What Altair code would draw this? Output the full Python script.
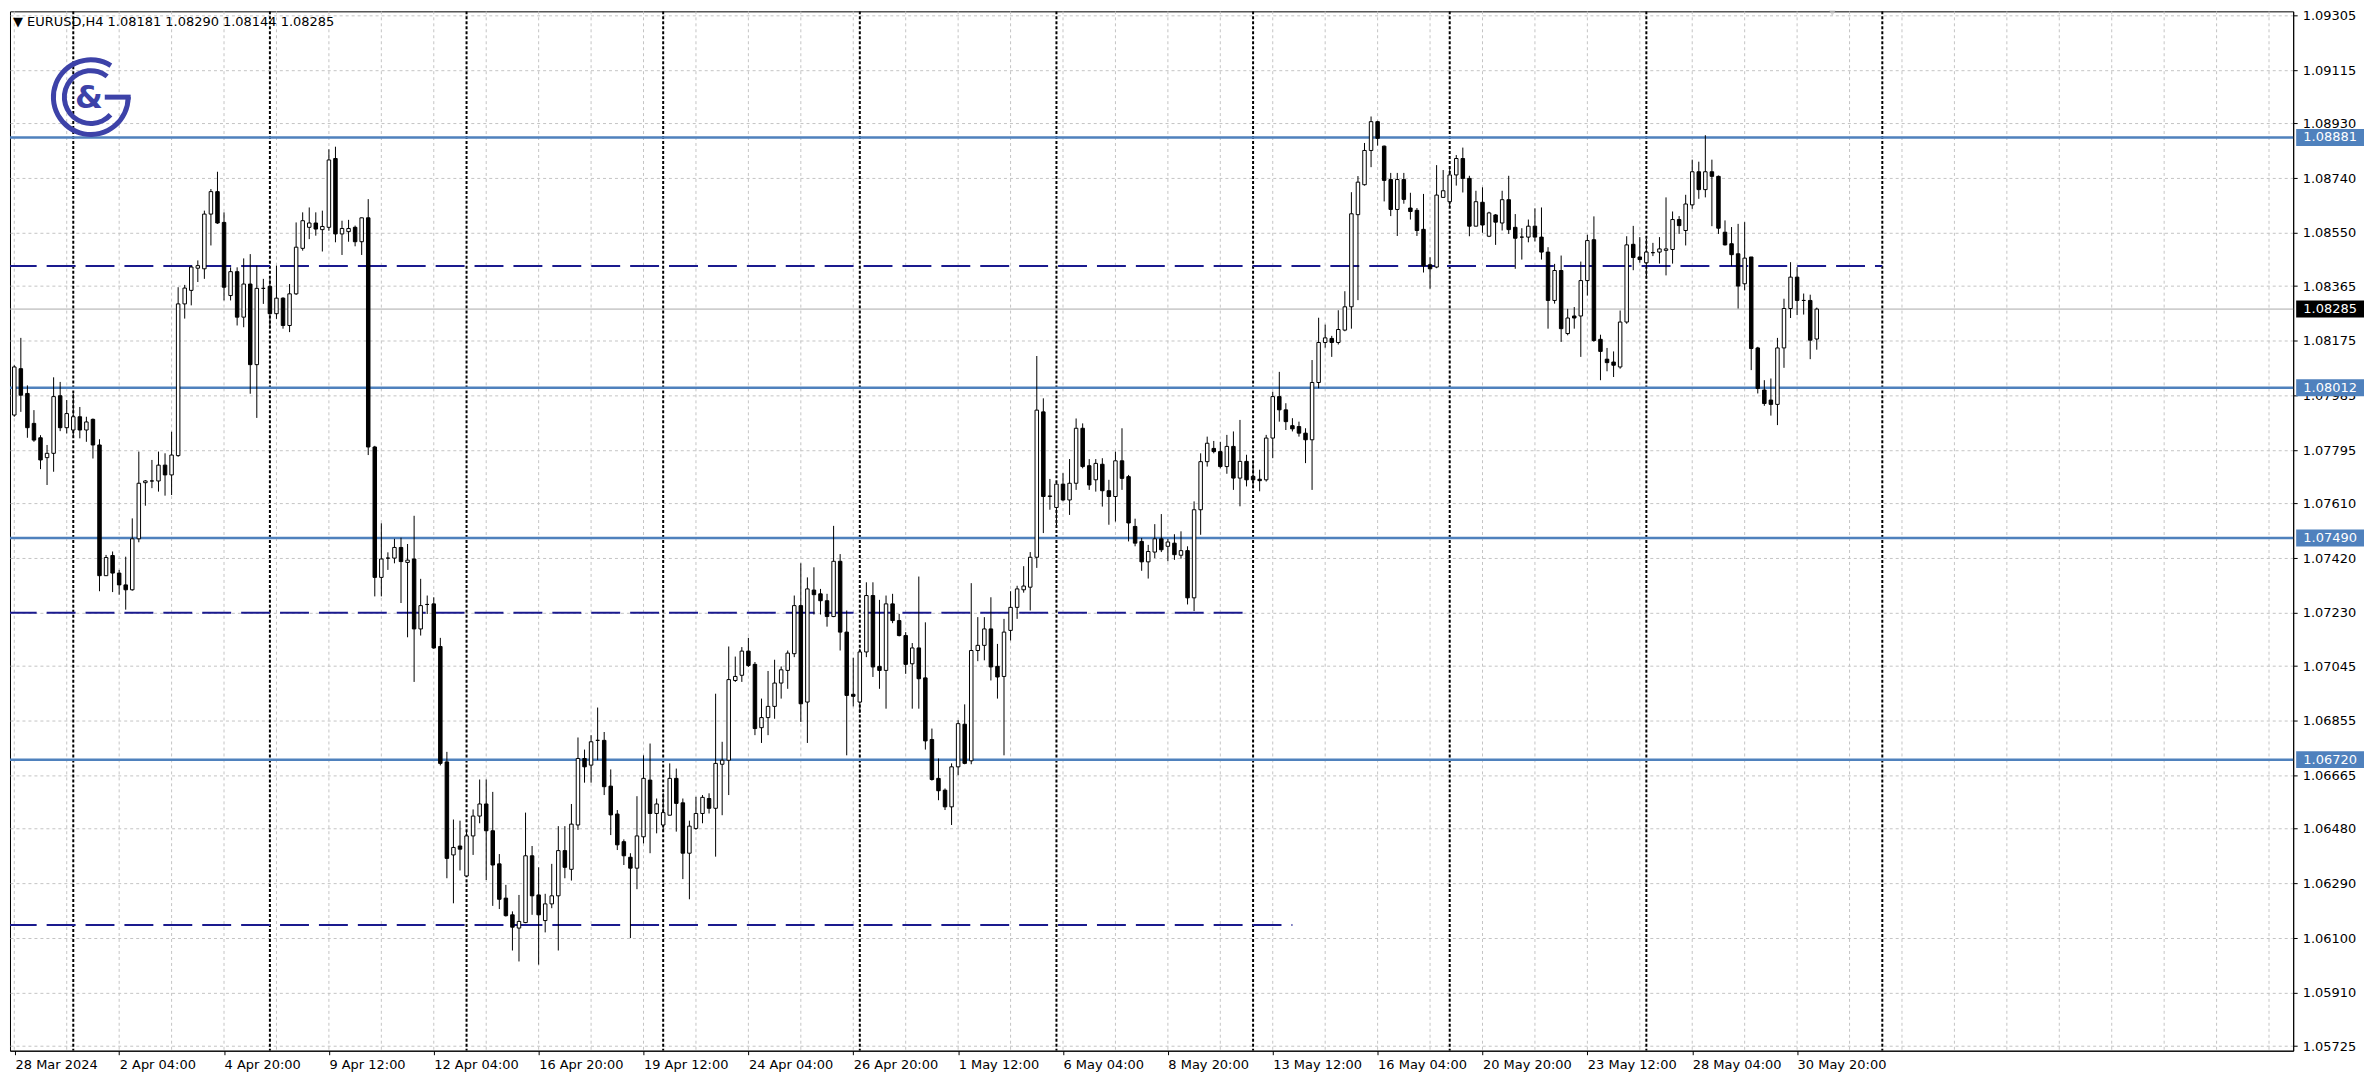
import json
import altair as alt
import pandas as pd

# ---------------- data (EURUSD, H4) ----------------
opens = [
 1.07917, 1.07917, 1.08078, 1.07992, 1.07888, 1.07838, 1.07769, 1.07784, 1.07984, 1.07873,
 1.07865, 1.07911, 1.07865, 1.07902, 1.07813, 1.07359, 1.07429, 1.07368, 1.07327, 1.07310,
 1.07487, 1.07682, 1.07688, 1.07688, 1.07743, 1.07709, 1.07776, 1.08303, 1.08350, 1.08427,
 1.08425, 1.08615, 1.08693, 1.08586, 1.08332, 1.08415, 1.08257, 1.08372, 1.08092, 1.08357,
 1.08364, 1.08269, 1.08323, 1.08228, 1.08338, 1.08496, 1.08569, 1.08584, 1.08561, 1.08569,
 1.08808, 1.08546, 1.08554, 1.08569, 1.08519, 1.08602, 1.07806, 1.07353, 1.07420, 1.07420,
 1.07457, 1.07405, 1.07417, 1.07174, 1.07259, 1.07261, 1.07113, 1.06712, 1.06389, 1.06420,
 1.06316, 1.06455, 1.06524, 1.06566, 1.06473, 1.06358, 1.06239, 1.06181, 1.06135, 1.06154,
 1.06386, 1.06250, 1.06161, 1.06219, 1.06247, 1.06404, 1.06339, 1.06493, 1.06724, 1.06701,
 1.06787, 1.06787, 1.06628, 1.06531, 1.06435, 1.06381, 1.06343, 1.06452, 1.06649, 1.06533,
 1.06493, 1.06527, 1.06655, 1.06570, 1.06395, 1.06481, 1.06533, 1.06585, 1.06551, 1.06704,
 1.06718, 1.06995, 1.07013, 1.07097, 1.07051, 1.06831, 1.06866, 1.06905, 1.06986, 1.07030,
 1.07088, 1.07255, 1.06920, 1.07309, 1.07296, 1.07272, 1.07217, 1.07409, 1.07163, 1.06947,
 1.06920, 1.07094, 1.07290, 1.07044, 1.07030, 1.07261, 1.07203, 1.07151, 1.07053, 1.07108,
 1.07004, 1.06790, 1.06655, 1.06614, 1.06556, 1.06695, 1.06843, 1.06716, 1.07099, 1.07117,
 1.07174, 1.07044, 1.07009, 1.07169, 1.07249, 1.07310, 1.07319, 1.07423, 1.07928, 1.07634,
 1.07596, 1.07677, 1.07622, 1.07680, 1.07871, 1.07741, 1.07692, 1.07746, 1.07654, 1.07634,
 1.07758, 1.07703, 1.07530, 1.07478, 1.07407, 1.07441, 1.07487, 1.07461, 1.07472, 1.07430,
 1.07446, 1.07282, 1.07588, 1.07755, 1.07801, 1.07790, 1.07738, 1.07808, 1.07698, 1.07756,
 1.07704, 1.07694, 1.07692, 1.07837, 1.07981, 1.07935, 1.07880, 1.07877, 1.07854, 1.07831,
 1.08030, 1.08169, 1.08183, 1.08169, 1.08212, 1.08293, 1.08613, 1.08717, 1.08836, 1.08936,
 1.08851, 1.08735, 1.08631, 1.08735, 1.08636, 1.08628, 1.08562, 1.08439, 1.08431, 1.08673,
 1.08658, 1.08751, 1.08808, 1.08739, 1.08573, 1.08656, 1.08538, 1.08612, 1.08584, 1.08665,
 1.08569, 1.08535, 1.08535, 1.08573, 1.08535, 1.08483, 1.08315, 1.08419, 1.08200, 1.08261,
 1.08261, 1.08384, 1.08526, 1.08180, 1.08111, 1.08101, 1.08084, 1.08240, 1.08510, 1.08466,
 1.08446, 1.08481, 1.08483, 1.08489, 1.08492, 1.08596, 1.08558, 1.08647, 1.08762, 1.08700,
 1.08762, 1.08746, 1.08552, 1.08512, 1.08477, 1.08373, 1.08466, 1.08150, 1.08004, 1.07969,
 1.07954, 1.08150, 1.08287, 1.08396, 1.08315, 1.08315, 1.08181,
]
highs = [
 1.07922, 1.08090, 1.08185, 1.08020, 1.07934, 1.07847, 1.07813, 1.08048, 1.08032, 1.07969,
 1.07992, 1.07945, 1.07911, 1.07905, 1.07833, 1.07431, 1.07443, 1.07379, 1.07425, 1.07558,
 1.07790, 1.07691, 1.07761, 1.07790, 1.07784, 1.07859, 1.08361, 1.08369, 1.08436, 1.08454,
 1.08627, 1.08702, 1.08762, 1.08621, 1.08430, 1.08430, 1.08461, 1.08476, 1.08436, 1.08390,
 1.08390, 1.08436, 1.08326, 1.08372, 1.08586, 1.08621, 1.08638, 1.08621, 1.08627, 1.08840,
 1.08849, 1.08592, 1.08595, 1.08575, 1.08603, 1.08667, 1.07810, 1.07541, 1.07440, 1.07487,
 1.07491, 1.07469, 1.07567, 1.07348, 1.07290, 1.07284, 1.07143, 1.06747, 1.06512, 1.06508,
 1.06470, 1.06547, 1.06651, 1.06651, 1.06608, 1.06392, 1.06285, 1.06193, 1.06250, 1.06536,
 1.06420, 1.06346, 1.06254, 1.06358, 1.06489, 1.06489, 1.06566, 1.06797, 1.06755, 1.06805,
 1.06901, 1.06816, 1.06686, 1.06545, 1.06443, 1.06395, 1.06593, 1.06735, 1.06776, 1.06585,
 1.06603, 1.06707, 1.06689, 1.06585, 1.06508, 1.06591, 1.06597, 1.06603, 1.06949, 1.06782,
 1.07113, 1.07078, 1.07111, 1.07143, 1.07059, 1.06932, 1.07028, 1.07067, 1.07044, 1.07099,
 1.07290, 1.07402, 1.07353, 1.07388, 1.07313, 1.07296, 1.07532, 1.07434, 1.07238, 1.07074,
 1.07105, 1.07336, 1.07336, 1.07275, 1.07290, 1.07296, 1.07226, 1.07163, 1.07125, 1.07356,
 1.07197, 1.06828, 1.06724, 1.06620, 1.06707, 1.06857, 1.06912, 1.07333, 1.07215, 1.07215,
 1.07284, 1.07122, 1.07209, 1.07305, 1.07324, 1.07392, 1.07441, 1.08122, 1.07975, 1.07695,
 1.07686, 1.07715, 1.07764, 1.07905, 1.07888, 1.07764, 1.07764, 1.07767, 1.07692, 1.07790,
 1.07871, 1.07709, 1.07557, 1.07490, 1.07466, 1.07538, 1.07573, 1.07487, 1.07503, 1.07513,
 1.07461, 1.07617, 1.07784, 1.07842, 1.07827, 1.07824, 1.07848, 1.07860, 1.07900, 1.07779,
 1.07750, 1.07727, 1.07848, 1.07998, 1.08067, 1.07958, 1.07906, 1.07894, 1.07871, 1.08108,
 1.08255, 1.08231, 1.08192, 1.08281, 1.08347, 1.08691, 1.08747, 1.08862, 1.08954, 1.08939,
 1.08853, 1.08758, 1.08758, 1.08758, 1.08689, 1.08636, 1.08685, 1.08465, 1.08785, 1.08768,
 1.08781, 1.08820, 1.08846, 1.08748, 1.08696, 1.08708, 1.08623, 1.08615, 1.08696, 1.08748,
 1.08615, 1.08566, 1.08596, 1.08635, 1.08638, 1.08500, 1.08442, 1.08471, 1.08286, 1.08292,
 1.08450, 1.08543, 1.08607, 1.08196, 1.08150, 1.08138, 1.08280, 1.08538, 1.08574, 1.08535,
 1.08529, 1.08515, 1.08535, 1.08673, 1.08624, 1.08608, 1.08682, 1.08804, 1.08797, 1.08889,
 1.08804, 1.08749, 1.08593, 1.08570, 1.08581, 1.08587, 1.08466, 1.08154, 1.08038, 1.08044,
 1.08185, 1.08321, 1.08448, 1.08431, 1.08339, 1.08335, 1.08290,
]
lows = [
 1.07743, 1.07911, 1.07928, 1.07838, 1.07824, 1.07729, 1.07674, 1.07720, 1.07861, 1.07853,
 1.07841, 1.07836, 1.07824, 1.07766, 1.07305, 1.07359, 1.07302, 1.07293, 1.07241, 1.07307,
 1.07475, 1.07602, 1.07663, 1.07651, 1.07637, 1.07639, 1.07772, 1.08252, 1.08298, 1.08379,
 1.08390, 1.08506, 1.08581, 1.08315, 1.08315, 1.08228, 1.08222, 1.07991, 1.07907, 1.08303,
 1.08217, 1.08251, 1.08217, 1.08205, 1.08334, 1.08488, 1.08528, 1.08540, 1.08485, 1.08557,
 1.08517, 1.08473, 1.08519, 1.08503, 1.08473, 1.07778, 1.07287, 1.07287, 1.07379, 1.07402,
 1.07264, 1.07145, 1.06990, 1.07151, 1.07226, 1.07105, 1.06700, 1.06308, 1.06221, 1.06335,
 1.06314, 1.06389, 1.06499, 1.06302, 1.06212, 1.06201, 1.06175, 1.06057, 1.06019, 1.06152,
 1.06181, 1.06008, 1.06120, 1.06204, 1.06057, 1.06308, 1.06300, 1.06476, 1.06640, 1.06640,
 1.06718, 1.06597, 1.06458, 1.06406, 1.06354, 1.06100, 1.06270, 1.06429, 1.06395, 1.06464,
 1.06470, 1.06527, 1.06470, 1.06305, 1.06235, 1.06476, 1.06499, 1.06533, 1.06383, 1.06527,
 1.06597, 1.06990, 1.06990, 1.07042, 1.06805, 1.06778, 1.06805, 1.06862, 1.06932, 1.06966,
 1.07076, 1.06851, 1.06778, 1.07224, 1.07224, 1.07182, 1.07215, 1.07099, 1.06735, 1.06905,
 1.06882, 1.07076, 1.07007, 1.06966, 1.06897, 1.07194, 1.07148, 1.07018, 1.06897, 1.06897,
 1.06755, 1.06647, 1.06579, 1.06545, 1.06493, 1.06666, 1.06704, 1.06704, 1.07062, 1.07065,
 1.06995, 1.06932, 1.06735, 1.07134, 1.07209, 1.07300, 1.07238, 1.07386, 1.07507, 1.07588,
 1.07530, 1.07617, 1.07570, 1.07657, 1.07732, 1.07657, 1.07651, 1.07599, 1.07536, 1.07547,
 1.07657, 1.07478, 1.07461, 1.07376, 1.07349, 1.07420, 1.07441, 1.07409, 1.07414, 1.07418,
 1.07259, 1.07236, 1.07501, 1.07738, 1.07784, 1.07732, 1.07713, 1.07657, 1.07600, 1.07669,
 1.07663, 1.07652, 1.07686, 1.07767, 1.07894, 1.07865, 1.07860, 1.07842, 1.07750, 1.07657,
 1.08010, 1.08151, 1.08119, 1.08162, 1.08208, 1.08217, 1.08316, 1.08714, 1.08778, 1.08853,
 1.08659, 1.08608, 1.08539, 1.08651, 1.08596, 1.08539, 1.08412, 1.08356, 1.08427, 1.08673,
 1.08638, 1.08714, 1.08690, 1.08538, 1.08573, 1.08550, 1.08535, 1.08508, 1.08558, 1.08546,
 1.08425, 1.08457, 1.08517, 1.08520, 1.08457, 1.08217, 1.08304, 1.08171, 1.08194, 1.08217,
 1.08119, 1.08332, 1.08171, 1.08038, 1.08069, 1.08049, 1.08078, 1.08234, 1.08420, 1.08446,
 1.08391, 1.08469, 1.08443, 1.08402, 1.08443, 1.08546, 1.08506, 1.08633, 1.08668, 1.08673,
 1.08573, 1.08546, 1.08506, 1.08434, 1.08287, 1.08350, 1.08073, 1.07992, 1.07949, 1.07915,
 1.07882, 1.08081, 1.08254, 1.08264, 1.08266, 1.08111, 1.08144,
]
closes = [
 1.07749, 1.08084, 1.07986, 1.07873, 1.07830, 1.07761, 1.07784, 1.07981, 1.07873, 1.07922,
 1.07911, 1.07865, 1.07893, 1.07813, 1.07359, 1.07422, 1.07368, 1.07327, 1.07310, 1.07487,
 1.07680, 1.07688, 1.07688, 1.07743, 1.07709, 1.07778, 1.08303, 1.08358, 1.08431, 1.08436,
 1.08615, 1.08693, 1.08584, 1.08361, 1.08415, 1.08257, 1.08372, 1.08092, 1.08357, 1.08357,
 1.08269, 1.08323, 1.08228, 1.08338, 1.08500, 1.08592, 1.08584, 1.08563, 1.08572, 1.08803,
 1.08546, 1.08565, 1.08565, 1.08519, 1.08602, 1.07806, 1.07353, 1.07417, 1.07420, 1.07457,
 1.07408, 1.07413, 1.07174, 1.07255, 1.07259, 1.07108, 1.06707, 1.06377, 1.06415, 1.06409,
 1.06455, 1.06524, 1.06566, 1.06473, 1.06354, 1.06235, 1.06178, 1.06138, 1.06158, 1.06386,
 1.06247, 1.06181, 1.06219, 1.06247, 1.06404, 1.06346, 1.06496, 1.06724, 1.06695, 1.06782,
 1.06787, 1.06626, 1.06528, 1.06424, 1.06386, 1.06343, 1.06455, 1.06655, 1.06533, 1.06566,
 1.06536, 1.06655, 1.06568, 1.06395, 1.06489, 1.06533, 1.06589, 1.06551, 1.06707, 1.06718,
 1.06998, 1.07009, 1.07097, 1.07047, 1.06828, 1.06866, 1.06905, 1.06986, 1.07032, 1.07090,
 1.07255, 1.06914, 1.07313, 1.07293, 1.07272, 1.07217, 1.07409, 1.07163, 1.06943, 1.06940,
 1.07094, 1.07290, 1.07042, 1.07030, 1.07261, 1.07203, 1.07151, 1.07051, 1.07108, 1.07001,
 1.06785, 1.06651, 1.06612, 1.06556, 1.06695, 1.06845, 1.06707, 1.07099, 1.07117, 1.07174,
 1.07042, 1.07007, 1.07163, 1.07249, 1.07313, 1.07323, 1.07423, 1.07934, 1.07634, 1.07636,
 1.07677, 1.07622, 1.07680, 1.07871, 1.07738, 1.07674, 1.07749, 1.07654, 1.07634, 1.07758,
 1.07697, 1.07542, 1.07472, 1.07407, 1.07443, 1.07487, 1.07449, 1.07476, 1.07432, 1.07446,
 1.07282, 1.07588, 1.07755, 1.07819, 1.07790, 1.07738, 1.07808, 1.07698, 1.07756, 1.07692,
 1.07692, 1.07689, 1.07837, 1.07981, 1.07935, 1.07894, 1.07869, 1.07854, 1.07831, 1.08030,
 1.08169, 1.08185, 1.08169, 1.08214, 1.08293, 1.08616, 1.08726, 1.08836, 1.08936, 1.08878,
 1.08732, 1.08631, 1.08735, 1.08666, 1.08624, 1.08558, 1.08435, 1.08425, 1.08681, 1.08696,
 1.08751, 1.08808, 1.08739, 1.08573, 1.08658, 1.08577, 1.08619, 1.08587, 1.08665, 1.08561,
 1.08531, 1.08535, 1.08573, 1.08535, 1.08483, 1.08315, 1.08419, 1.08217, 1.08254, 1.08254,
 1.08384, 1.08523, 1.08176, 1.08138, 1.08099, 1.08090, 1.08240, 1.08508, 1.08464, 1.08457,
 1.08483, 1.08481, 1.08494, 1.08494, 1.08596, 1.08575, 1.08650, 1.08762, 1.08700, 1.08762,
 1.08746, 1.08566, 1.08508, 1.08474, 1.08365, 1.08462, 1.08148, 1.08009, 1.07957, 1.07954,
 1.08150, 1.08287, 1.08396, 1.08315, 1.08315, 1.08177, 1.08285,
]

# x-axis labels (one every 16 H4 bars, the first one at the left edge)
x_labels = ["28 Mar 2024", "2 Apr 04:00", "4 Apr 20:00", "9 Apr 12:00", "12 Apr 04:00",
            "16 Apr 20:00", "19 Apr 12:00", "24 Apr 04:00", "26 Apr 20:00", "1 May 12:00",
            "6 May 04:00", "8 May 20:00", "13 May 12:00", "16 May 04:00", "20 May 20:00",
            "23 May 12:00", "28 May 04:00", "30 May 20:00"]
x_label_bars = [1.12, 17, 33, 49, 65, 81, 97, 113, 129, 145, 161, 177, 193, 209, 225, 241, 257, 273]
grid_bars = [1 + 8 * k for k in range(44)]
week_separators = [10, 40, 70, 100, 130, 160, 190, 220, 250, 286]

price_ticks = [1.09305, 1.09115, 1.08930, 1.08740, 1.08550, 1.08365, 1.08175, 1.07985,
               1.07795, 1.07610, 1.07420, 1.07230, 1.07045, 1.06855, 1.06665, 1.06480,
               1.06290, 1.06100, 1.05910, 1.05725]

solid_levels = [1.08881, 1.08012, 1.07490, 1.06720]
dashed_levels = [1.08435, 1.07230, 1.06146]
dashed_ends = [286, 189, 196]
current_price = 1.08285
header_text = "\u25bc  EURUSD,H4  1.08181 1.08290 1.08144 1.08285"

# ---------------- layout ----------------
W, H = 2289, 1042
X_DOMAIN = [1.106, 347.924]
Y_DOMAIN = [1.05709, 1.093192]
FONT = "DejaVu Sans"
FS = 13
BLUE = "#4f81bd"
NAVY = "#1a1a8e"
GRID = "#c4c4c4"
LOGO = "#3d42a8"

n = len(opens)
assert n == len(highs) == len(lows) == len(closes)
df = pd.DataFrame({"bar": list(range(n)), "open": opens, "high": highs,
                   "low": lows, "close": closes})
df["top"] = df[["open", "close"]].max(axis=1)
df["bot"] = df[["open", "close"]].min(axis=1)
df["dir"] = ["up" if c >= o else "down" for o, c in zip(opens, closes)]

xs = alt.Scale(domain=X_DOMAIN, nice=False, zero=False)
ys = alt.Scale(domain=Y_DOMAIN, nice=False, zero=False)

label_expr = json.dumps(x_labels) + "[round((datum.value - 1) / 16)]"
x_axis = alt.Axis(values=x_label_bars, labelExpr=label_expr, grid=False,
                  domain=True, domainColor="black", ticks=True, tickSize=4,
                  tickColor="black", labelAlign="left", labelBaseline="top",
                  labelPadding=4, labelFontSize=FS, labelFont=FONT, labelColor="black",
                  labelOverlap=False, labelFlush=False, labelBound=False, title=None)
y_axis = alt.Axis(orient="right", values=price_ticks, format=".5f", grid=True,
                  gridColor=GRID, gridDash=[3, 3], gridWidth=1, domain=True,
                  domainColor="black", ticks=True, tickSize=4, tickColor="black",
                  labelPadding=5, labelFontSize=FS, labelFont=FONT, labelColor="black",
                  labelOverlap=False, labelFlush=False, title=None)


def X(field):
    return alt.X(field, scale=xs, axis=x_axis)


def Y(field):
    return alt.Y(field, scale=ys, axis=y_axis)


one = pd.DataFrame({"k": [0]})

wicks = alt.Chart(df).mark_rule(color="black", strokeWidth=1, clip=True).encode(
    x=X("bar:Q"), y=Y("low:Q"), y2="high:Q")
bodies = alt.Chart(df).mark_bar(size=3.5, stroke="black", strokeWidth=1, clip=True).encode(
    x=X("bar:Q"), y=Y("bot:Q"), y2="top:Q",
    color=alt.Color("dir:N", scale=alt.Scale(domain=["up", "down"], range=["white", "black"]),
                    legend=None),
)

vgrid = alt.Chart(pd.DataFrame({"bar": grid_bars})).mark_rule(
    color=GRID, strokeWidth=1, strokeDash=[3, 3], clip=True).encode(x=X("bar:Q"))

seps = alt.Chart(pd.DataFrame({"bar": week_separators})).mark_rule(
    color="black", strokeWidth=2, strokeDash=[3, 2], clip=True).encode(x=X("bar:Q"))

cur_line = alt.Chart(pd.DataFrame({"level": [current_price]})).mark_rule(
    color="#aaaaaa", strokeWidth=1).encode(y=Y("level:Q"))

solid = alt.Chart(pd.DataFrame({"level": solid_levels})).mark_rule(
    color=BLUE, strokeWidth=2.5).encode(y=Y("level:Q"))

dashed = alt.Chart(pd.DataFrame({"level": dashed_levels, "start": [0, 0, 0],
                                 "end": dashed_ends})).mark_rule(
    color=NAVY, strokeWidth=2, strokeDash=[29, 10], clip=True).encode(
    x=X("start:Q"), x2="end:Q", y=Y("level:Q"))

header = alt.Chart(one).mark_text(align="left", baseline="middle", fontSize=FS,
                                  font=FONT, color="black").encode(
    x=alt.value(3), y=alt.value(11), text=alt.value(header_text))

shift_marker = alt.Chart(one).mark_point(shape="triangle-down", filled=True, size=40,
                                         color="#c8c8c8").encode(
    x=alt.value(1827), y=alt.value(2))

# logo (C & G)
CX, CY = 81, 86
logo_outer = alt.Chart(one).mark_arc(theta=1.57, theta2=6.85, radius=40, radius2=35,
                                     color=LOGO).encode(x=alt.value(CX), y=alt.value(CY))
logo_inner = alt.Chart(one).mark_arc(theta=2.3, theta2=6.95, radius=29, radius2=24,
                                     color=LOGO).encode(x=alt.value(CX), y=alt.value(CY))
logo_bar = alt.Chart(one).mark_rule(color=LOGO, strokeWidth=5).encode(
    x=alt.value(CX + 14), x2=alt.value(CX + 40), y=alt.value(CY))
logo_amp = alt.Chart(one).mark_text(text="&", fontSize=32, fontWeight="bold", font=FONT,
                                    color=LOGO, baseline="middle", align="center").encode(
    x=alt.value(CX - 2), y=alt.value(CY + 1))

# price tags on the right axis
tags = pd.DataFrame({"level": solid_levels + [current_price],
                     "kind": ["line"] * len(solid_levels) + ["price"]})
tag_boxes = alt.Chart(tags).mark_rect(yOffset=-8.5, y2Offset=8.5).encode(
    x=alt.value(W + 3), x2=alt.value(W + 71),
    y=Y("level:Q"), y2="level:Q",
    color=alt.Color("kind:N", scale=alt.Scale(domain=["line", "price"], range=[BLUE, "black"]),
                    legend=None))
tag_text = alt.Chart(tags).mark_text(align="center", baseline="middle", fontSize=FS,
                                     font=FONT, color="white").encode(
    x=alt.value(W + 37), y=Y("level:Q"),
    text=alt.Text("level:Q", format=".5f"))

chart = alt.layer(
    vgrid, seps, cur_line, solid, dashed, wicks, bodies,
    header, shift_marker, logo_outer, logo_inner, logo_bar, logo_amp,
    tag_boxes, tag_text,
).resolve_scale(color="independent").properties(
    width=W, height=H, padding=0, background="white",
).configure_view(stroke="black", strokeWidth=1)

chart.save("out.html", embed_options={"renderer": "svg", "actions": False})
